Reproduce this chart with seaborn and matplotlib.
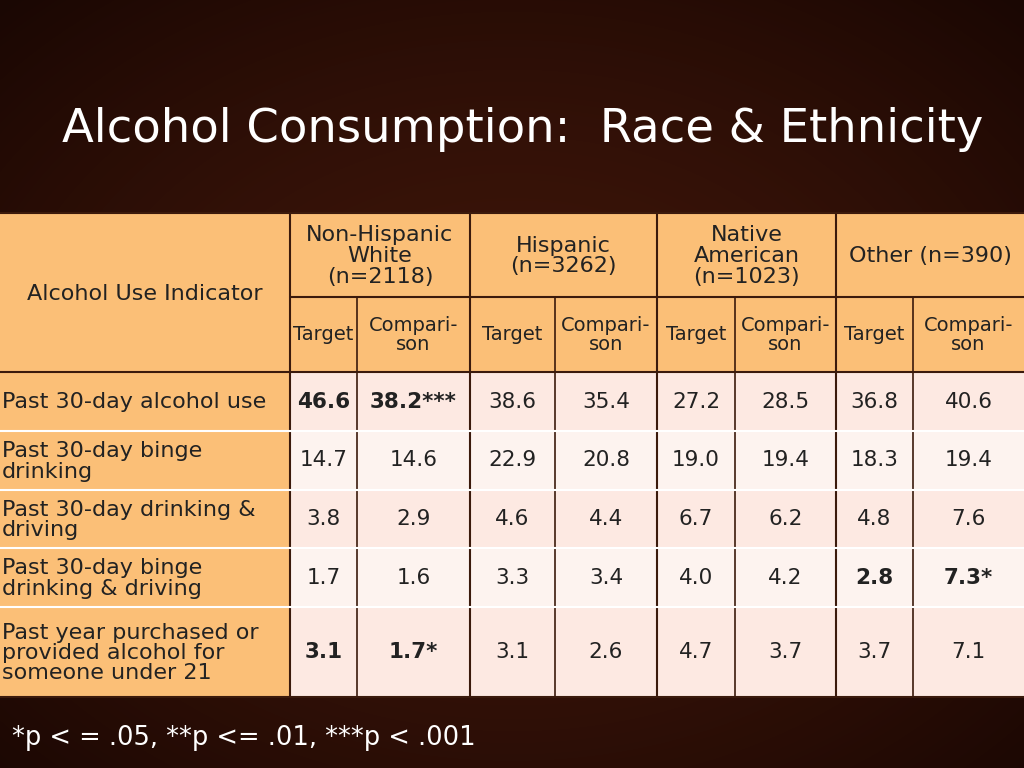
import numpy as np
import matplotlib
matplotlib.use("Agg")
import matplotlib.pyplot as plt
from matplotlib.patches import Rectangle
import seaborn as sns

sns.set_theme(style="white")

groups = ["Non-Hispanic\nWhite\n(n=2118)", "Hispanic\n(n=3262)", "Native\nAmerican\n(n=1023)", "Other (n=390)"]
subcols = ["Target", "Compari-\nson"] * 4
indicators = ["Past 30-day alcohol use", "Past 30-day binge\ndrinking", "Past 30-day drinking &\ndriving",
              "Past 30-day binge\ndrinking & driving", "Past year purchased or\nprovided alcohol for\nsomeone under 21"]
values = [
    ["46.6", "38.2***", "38.6", "35.4", "27.2", "28.5", "36.8", "40.6"],
    ["14.7", "14.6", "22.9", "20.8", "19.0", "19.4", "18.3", "19.4"],
    ["3.8", "2.9", "4.6", "4.4", "6.7", "6.2", "4.8", "7.6"],
    ["1.7", "1.6", "3.3", "3.4", "4.0", "4.2", "2.8", "7.3*"],
    ["3.1", "1.7*", "3.1", "2.6", "4.7", "3.7", "3.7", "7.1"],
]
bold = {(0, 0), (0, 1), (3, 6), (3, 7), (4, 0), (4, 1)}
title = "Alcohol Consumption:  Race & Ethnicity"
footnote = "*p < = .05, **p <= .01, ***p < .001"

xb = [0, 290, 357, 470, 555, 657, 735, 836, 913, 1024]
yb = [372, 431, 490, 548, 607, 697]
ORANGE = "#fbbf77"; PINK1 = "#fde9e2"; PINK2 = "#fdf3ef"; LINE = "#3b1a0c"

fig = plt.figure(figsize=(10.24, 7.68), dpi=100)
ax = fig.add_axes([0, 0, 1, 1])
ax.set_xlim(0, 1024); ax.set_ylim(768, 0); ax.axis("off")
yy, xx = np.mgrid[0:768, 0:1024]
bg = np.exp(-((xx - 512) ** 2 / 900000 + (yy - 400) ** 2 / 500000))
ax.imshow(bg, cmap=sns.blend_palette(["#1a0703", "#3d1509"], as_cmap=True),
          extent=(0, 1024, 768, 0), aspect="auto", zorder=0)

ax.text(62, 130, title, color="white", fontsize=33.5, va="center", ha="left")

# header
ax.add_patch(Rectangle((0, 213), 1024, 159, fc=ORANGE, ec="none", zorder=1))
ax.text(145, 294, "Alcohol Use Indicator", fontsize=16, ha="center", va="center", color="#222", zorder=3)
for g in range(4):
    x0, x1 = xb[1 + 2 * g], xb[3 + 2 * g]
    ax.text((x0 + x1) / 2, 256, groups[g], fontsize=16, ha="center", va="center", color="#222", linespacing=1.05, zorder=3)
    ax.plot([x0, x0], [213, 697], color=LINE, lw=1.5, zorder=4)
ax.plot([290, 1024], [297, 297], color=LINE, lw=1.5, zorder=4)
for j in range(8):
    x0, x1 = xb[1 + j], xb[2 + j]
    ax.text((x0 + x1) / 2, 335, subcols[j], fontsize=14, ha="center", va="center", color="#222", linespacing=1.0, zorder=3)
    ax.plot([x0, x0], [297, 697], color=LINE, lw=1.2, zorder=4)

for i in range(5):
    y0, y1 = yb[i], yb[i + 1]
    ax.add_patch(Rectangle((0, y0), 290, y1 - y0, fc=ORANGE, ec="none", zorder=1))
    ax.add_patch(Rectangle((290, y0), 734, y1 - y0, fc=PINK1 if i % 2 == 0 else PINK2, ec="none", zorder=1))
    ax.text(2, (y0 + y1) / 2 + 1, indicators[i], fontsize=16, ha="left", va="center", color="#222", linespacing=1.02, zorder=3)
    for j in range(8):
        ax.text((xb[1 + j] + xb[2 + j]) / 2, (y0 + y1) / 2, values[i][j], fontsize=15.5, ha="center", va="center",
                color="#222", fontweight="bold" if (i, j) in bold else "normal", zorder=3)
    ax.plot([0, 1024], [y0, y0], color="white" if i else LINE, lw=1.5, zorder=4)
ax.plot([0, 1024], [213, 213], color=LINE, lw=1.5, zorder=4)
ax.plot([0, 1024], [697, 697], color=LINE, lw=1.5, zorder=4)

ax.text(12, 738, footnote, color="white", fontsize=18.5, ha="left", va="center")
fig.savefig("out.png", dpi=100)
